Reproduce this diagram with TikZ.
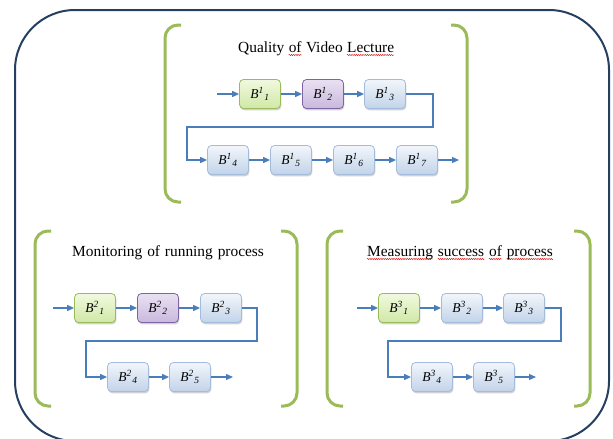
\documentclass[tikz,border=0pt]{standalone}
\usepackage{fontspec}
\setmainfont{Liberation Serif}
\usetikzlibrary{arrows.meta,shadows,decorations.pathmorphing}
\definecolor{navy}{HTML}{243F60}
\definecolor{brk}{HTML}{9BBB59}
\definecolor{arr}{HTML}{4A7EBB}
\definecolor{bbord}{HTML}{A3BCDC}
\definecolor{btop}{HTML}{F2F6FB}
\definecolor{bbot}{HTML}{C2D3EA}
\definecolor{gbord}{HTML}{9BBB59}
\definecolor{gtop}{HTML}{F1F9E0}
\definecolor{gbot}{HTML}{D0E8A6}
\definecolor{pbord}{HTML}{8064A2}
\definecolor{ptop}{HTML}{E9E1F2}
\definecolor{pbot}{HTML}{C9B8DD}
\newcommand\bl[2]{B\textsuperscript{#1}\kern0.6pt\textsubscript{#2}}
\tikzset{
  box/.style={rounded corners=4pt, minimum width=41pt, minimum height=29pt, inner sep=0pt,
    line width=0.8pt, drop shadow={shadow xshift=0.8pt, shadow yshift=-1.8pt, opacity=0.3, fill=black!60},
    font=\fontsize{13.5}{15}\selectfont\itshape},
  bluebox/.style={box, draw=bbord, top color=btop, bottom color=bbot},
  greenbox/.style={box, draw=gbord, top color=gtop, bottom color=gbot},
  purplebox/.style={box, draw=pbord, top color=ptop, bottom color=pbot},
  flow/.style={draw=arr, line width=1.2pt, -{Triangle[length=7pt,width=6pt]}},
  bracket/.style={draw=brk, line width=3pt, rounded corners=13pt},
  outer/.style={draw=navy, line width=2pt, rounded corners=60pt},
  ttl/.style={inner sep=0pt, anchor=base west, font=\fontsize{15.4}{18}\selectfont},
  squig/.style={draw=red!85!black, line width=0.45pt, decorate,
    decoration={snake, amplitude=0.55pt, segment length=2.2pt}}
}
\begin{document}
\begin{tikzpicture}[x=1pt,y=-1pt]
\useasboundingbox (0,0) rectangle (613,439);
% outer frame
\draw[outer] (15,10) rectangle (609,441);

% ---------- group 1 ----------
\draw[bracket] (181,25) -- (165,25) -- (165,202) -- (181,202);
\draw[bracket] (451,25) -- (467,25) -- (467,202) -- (451,202);
\node[ttl] (t1a) at (238,52) {Quality};
\node[ttl] (t1b) at ([xshift=4pt]t1a.base east) {of};
\node[ttl] (t1c) at ([xshift=4pt]t1b.base east) {Video};
\node[ttl] (t1d) at ([xshift=4pt]t1c.base east) {Lecture};
\draw[squig] ([yshift=-3pt]t1b.base west) -- ([yshift=-3pt]t1b.base east);
\draw[squig] ([yshift=-3pt]t1d.base west) -- ([yshift=-3pt]t1d.base east);

\node[greenbox]  (b11) at (260,94) {\bl{1}{1}};
\node[purplebox] (b12) at (323,94) {\bl{1}{2}};
\node[bluebox]   (b13) at (385,94) {\bl{1}{3}};
\node[bluebox]   (b14) at (228,160) {\bl{1}{4}};
\node[bluebox]   (b15) at (291,160) {\bl{1}{5}};
\node[bluebox]   (b16) at (354,160) {\bl{1}{6}};
\node[bluebox]   (b17) at (417,160) {\bl{1}{7}};
\coordinate (in1) at (217,94);
\coordinate (out1) at (459,160);
\draw[flow] (in1) -- (b11);
\draw[flow] (b11) -- (b12);
\draw[flow] (b12) -- (b13);
\draw[flow] (b13.east) -| (433,127) -- (187,127) |- (b14.west);
\draw[flow] (b14) -- (b15);
\draw[flow] (b15) -- (b16);
\draw[flow] (b16) -- (b17);
\draw[flow] (b17) -- (out1);

% ---------- group 2 ----------
\draw[bracket] (51,231) -- (35,231) -- (35,406) -- (51,406);
\draw[bracket] (281,231) -- (297,231) -- (297,406) -- (281,406);
\node[ttl] (t2a) at (72,256) {Monitoring};
\node[ttl] (t2b) at ([xshift=4.5pt]t2a.base east) {of};
\node[ttl] (t2c) at ([xshift=4.5pt]t2b.base east) {running};
\node[ttl] (t2d) at ([xshift=4.5pt]t2c.base east) {process};

\node[greenbox]  (b21) at (95,308) {\bl{2}{1}};
\node[purplebox] (b22) at (158,308) {\bl{2}{2}};
\node[bluebox]   (b23) at (221,308) {\bl{2}{3}};
\node[bluebox]   (b24) at (128,377) {\bl{2}{4}};
\node[bluebox]   (b25) at (190,377) {\bl{2}{5}};
\coordinate (in2) at (53,308);
\coordinate (out2) at (233,377);
\draw[flow] (in2) -- (b21);
\draw[flow] (b21) -- (b22);
\draw[flow] (b22) -- (b23);
\draw[flow] (b23.east) -| (257,341) -- (86,341) |- (b24.west);
\draw[flow] (b24) -- (b25);
\draw[flow] (b25) -- (out2);

% ---------- group 3 ----------
\draw[bracket] (343,231) -- (327,231) -- (327,406) -- (343,406);
\draw[bracket] (574,231) -- (590,231) -- (590,406) -- (574,406);
\node[ttl] (t3a) at (367,256) {Measuring};
\node[ttl] (t3b) at ([xshift=4.5pt]t3a.base east) {success};
\node[ttl] (t3c) at ([xshift=4.5pt]t3b.base east) {of};
\node[ttl] (t3d) at ([xshift=4.5pt]t3c.base east) {process};
\draw[squig] ([yshift=-3pt]t3a.base west) -- ([yshift=-3pt]t3a.base east);
\draw[squig] ([yshift=-3pt]t3b.base west) -- ([yshift=-3pt]t3b.base east);
\draw[squig] ([yshift=-3pt]t3c.base west) -- ([yshift=-3pt]t3c.base east);
\draw[squig] ([yshift=-3pt]t3d.base west) -- ([yshift=-3pt]t3d.base east);

\node[greenbox]  (b31) at (399,308) {\bl{3}{1}};
\node[bluebox]   (b32) at (462,308) {\bl{3}{2}};
\node[bluebox]   (b33) at (524,308) {\bl{3}{3}};
\node[bluebox]   (b34) at (432,377) {\bl{3}{4}};
\node[bluebox]   (b35) at (494,377) {\bl{3}{5}};
\coordinate (in3) at (357,308);
\coordinate (out3) at (536,377);
\draw[flow] (in3) -- (b31);
\draw[flow] (b31) -- (b32);
\draw[flow] (b32) -- (b33);
\draw[flow] (b33.east) -| (561,341) -- (388,341) |- (b34.west);
\draw[flow] (b34) -- (b35);
\draw[flow] (b35) -- (out3);
\end{tikzpicture}
\end{document}
